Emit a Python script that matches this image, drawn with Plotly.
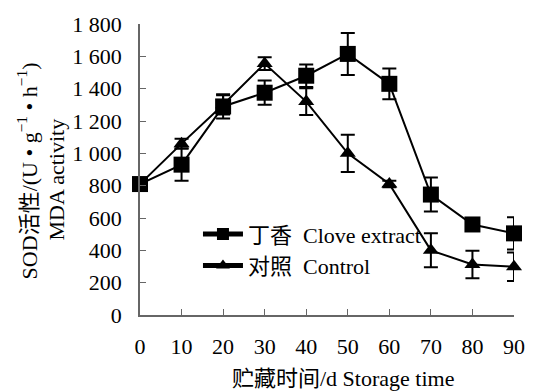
import plotly.graph_objects as go

days = [0, 10, 20, 30, 40, 50, 60, 70, 80, 90]
clove = [810, 930, 1290, 1375, 1480, 1615, 1430, 745, 560, 505]
clove_err = [0, 100, 75, 75, 70, 130, 95, 105, 20, 100]
control = [810, 1060, 1300, 1555, 1320, 1000, 810, 400, 312, 298]
control_err = [0, 30, 60, 40, 83, 115, 20, 105, 85, 88]

FONT = "'Liberation Serif', 'Times New Roman', 'Noto Sans CJK SC', serif"
FS = 22

fig = go.Figure()
fig.add_trace(go.Scatter(
    x=days, y=clove, name="丁香  Clove extract", mode="lines+markers",
    line=dict(color="black", width=2),
    marker=dict(symbol="square", size=16, color="black"),
    error_y=dict(type="data", array=clove_err, visible=True, color="black", thickness=2, width=7),
    cliponaxis=False,
))
fig.add_trace(go.Scatter(
    x=days, y=control, name="对照  Control", mode="lines+markers",
    line=dict(color="black", width=2),
    marker=dict(symbol="triangle-up", size=14, color="black"),
    error_y=dict(type="data", array=control_err, visible=True, color="black", thickness=2, width=7),
    cliponaxis=False,
))

fig.update_layout(
    width=537, height=392,
    margin=dict(l=140, r=15, t=18, b=77),
    paper_bgcolor="white", plot_bgcolor="white",
    font=dict(family=FONT, size=FS, color="black"),
    showlegend=True,
    legend=dict(x=0.155, y=0.35, xanchor="left", yanchor="top",
                bgcolor="rgba(0,0,0,0)", font=dict(size=FS),
                itemwidth=40, itemsizing="constant", tracegroupgap=6),
    xaxis=dict(range=[0, 90], tickvals=days, ticks="inside", ticklen=6,
               tickcolor="#666", showline=True, linecolor="#666", linewidth=1.5,
               showgrid=False, zeroline=False, ticklabelstandoff=11),
    yaxis=dict(range=[0, 1800], tickvals=list(range(0, 1801, 200)),
               ticktext=["0", "200", "400", "600", "800", "1 000", "1 200", "1 400", "1 600", "1 800"],
               ticks="inside", ticklen=6, tickcolor="#666", showline=True,
               linecolor="#666", linewidth=1.5, showgrid=False, zeroline=False,
               ticklabelstandoff=12),
    annotations=[
        dict(text="SOD活性/(U • g<sup>−1</sup> • h<sup>−1</sup>)", xref="paper", yref="paper",
             x=-0.301, y=0.495, xanchor="center", yanchor="middle", textangle=-90,
             showarrow=False, font=dict(size=FS)),
        dict(text="MDA activity", xref="paper", yref="paper",
             x=-0.2225, y=0.465, xanchor="center", yanchor="middle", textangle=-90,
             showarrow=False, font=dict(size=FS)),
        dict(text="贮藏时间/d Storage time", xref="paper", yref="paper",
             x=0.542, y=-0.219, xanchor="center", yanchor="middle",
             showarrow=False, font=dict(size=FS)),
    ],
)

fig.write_html("out.html")
